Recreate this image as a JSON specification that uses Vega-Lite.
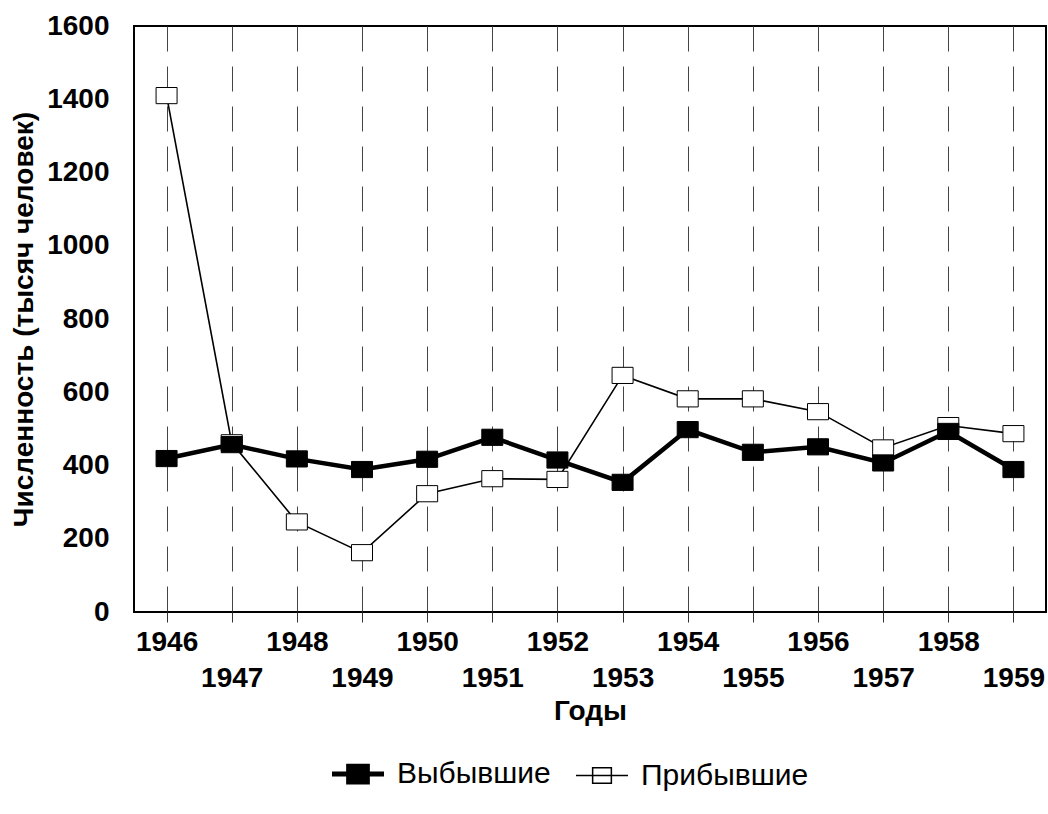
{
  "$schema": "https://vega.github.io/schema/vega-lite/v6.json",
  "width": 912,
  "height": 586,
  "autosize": {"type": "none"},
  "padding": {"left": 134, "top": 26, "right": 2, "bottom": 202},
  "background": "white",
  "config": {
    "view": {"stroke": "black", "strokeWidth": 2},
    "font": "Liberation Sans"
  },
  "data": {
    "values": [
      {"year": 1946, "series": "Прибывшие", "value": 1410},
      {"year": 1947, "series": "Прибывшие", "value": 462},
      {"year": 1948, "series": "Прибывшие", "value": 246},
      {"year": 1949, "series": "Прибывшие", "value": 162},
      {"year": 1950, "series": "Прибывшие", "value": 323},
      {"year": 1951, "series": "Прибывшие", "value": 364},
      {"year": 1952, "series": "Прибывшие", "value": 362},
      {"year": 1953, "series": "Прибывшие", "value": 646},
      {"year": 1954, "series": "Прибывшие", "value": 582},
      {"year": 1955, "series": "Прибывшие", "value": 582},
      {"year": 1956, "series": "Прибывшие", "value": 547},
      {"year": 1957, "series": "Прибывшие", "value": 448},
      {"year": 1958, "series": "Прибывшие", "value": 509},
      {"year": 1959, "series": "Прибывшие", "value": 487},
      {"year": 1946, "series": "Выбывшие", "value": 419},
      {"year": 1947, "series": "Выбывшие", "value": 457},
      {"year": 1948, "series": "Выбывшие", "value": 418},
      {"year": 1949, "series": "Выбывшие", "value": 389},
      {"year": 1950, "series": "Выбывшие", "value": 417},
      {"year": 1951, "series": "Выбывшие", "value": 477},
      {"year": 1952, "series": "Выбывшие", "value": 415},
      {"year": 1953, "series": "Выбывшие", "value": 354},
      {"year": 1954, "series": "Выбывшие", "value": 498},
      {"year": 1955, "series": "Выбывшие", "value": 436},
      {"year": 1956, "series": "Выбывшие", "value": 451},
      {"year": 1957, "series": "Выбывшие", "value": 407},
      {"year": 1958, "series": "Выбывшие", "value": 493},
      {"year": 1959, "series": "Выбывшие", "value": 389}
    ]
  },
  "encoding": {
    "x": {
      "field": "year",
      "type": "ordinal",
      "scale": {"type": "point", "padding": 0.5},
      "axis": {
        "title": "Годы",
        "titleFont": "Liberation Sans",
        "titleFontSize": 28,
        "titleFontWeight": "bold",
        "titleColor": "black",
        "titlePadding": 5,
        "labelFont": "Liberation Sans",
        "labelFontSize": 28,
        "labelFontWeight": "bold",
        "labelColor": "black",
        "labelAngle": 0,
        "labelBaseline": "top",
        "labelLineHeight": 36,
        "labelPadding": 6,
        "labelExpr": "datum.value % 2 == 0 ? datum.label : ['', datum.label]",
        "tickSize": 10,
        "tickColor": "#333333",
        "domain": false,
        "grid": true,
        "gridColor": "#444444",
        "gridDash": [25, 15],
        "gridWidth": 1
      }
    },
    "y": {
      "field": "value",
      "type": "quantitative",
      "scale": {"domain": [0, 1600], "nice": false},
      "axis": {
        "title": "Численность (тысяч человек)",
        "titleFont": "Liberation Sans",
        "titleFontSize": 28,
        "titleFontWeight": "bold",
        "titleColor": "black",
        "titlePadding": 8,
        "format": "d",
        "values": [0, 200, 400, 600, 800, 1000, 1200, 1400, 1600],
        "labelFont": "Liberation Sans",
        "labelFontSize": 28,
        "labelFontWeight": "bold",
        "labelColor": "black",
        "labelPadding": 25,
        "ticks": false,
        "domain": false,
        "grid": false
      }
    }
  },
  "layer": [
    {
      "transform": [{"filter": "datum.series === 'Прибывшие'"}],
      "mark": {"type": "line", "color": "black", "strokeWidth": 1.6},
      "encoding": {}
    },
    {
      "transform": [{"filter": "datum.series === 'Выбывшие'"}],
      "mark": {"type": "line", "color": "black", "strokeWidth": 4.5},
      "encoding": {}
    },
    {
      "mark": {
        "type": "point",
        "shape": "M-1,-0.77H1V0.77H-1Z",
        "size": 441,
        "filled": true,
        "stroke": "black",
        "strokeWidth": 1,
        "opacity": 1
      },
      "encoding": {
        "fill": {
          "field": "series",
          "type": "nominal",
          "scale": {"domain": ["Выбывшие", "Прибывшие"], "range": ["black", "white"]},
          "legend": {
            "title": null,
            "orient": "none",
            "direction": "horizontal",
            "legendX": 209,
            "legendY": 733,
            "padding": 0,
            "symbolType": "M-1,0H1M-0.36,-0.3H0.36V0.3H-0.36Z",
            "symbolSize": 2704,
            "symbolStrokeColor": "black",
            "symbolOpacity": 1,
            "labelFont": "Liberation Sans",
            "labelFontSize": 30,
            "labelColor": "black",
            "labelOffset": 24,
            "labelLimit": 0,
            "columnPadding": 22,
            "encode": {
              "symbols": {
                "update": {
                  "strokeWidth": {"signal": "datum.value === 'Выбывшие' ? 5 : 1.5"},
                  "stroke": {"value": "black"}
                }
              }
            }
          }
        }
      }
    }
  ]
}
